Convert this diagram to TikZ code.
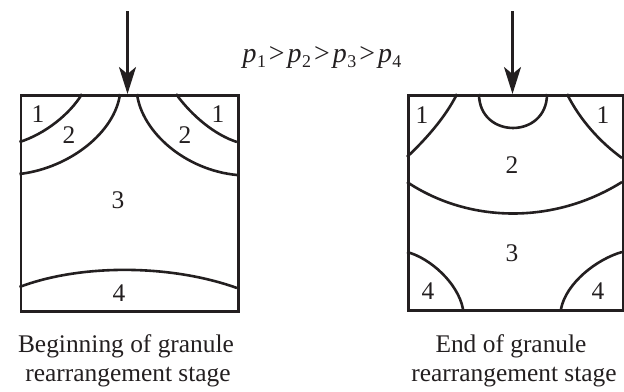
\documentclass[tikz,border=0pt]{standalone}
\usepackage{fontspec}
\setmainfont{Liberation Serif}
\usetikzlibrary{arrows.meta}
\definecolor{ink}{HTML}{231F20}
\newcommand\pv[1]{\textit{p}\kern0.5bp\raisebox{-0.4ex}{\fontsize{18}{18}\selectfont #1}}
\newcommand\gtr{\kern3bp>\kern3bp}
\begin{document}
\begin{tikzpicture}[x=1bp,y=-1bp,
  boxline/.style={draw=ink,line width=2.7bp},
  zone/.style={draw=ink,line width=2.6bp},
  lbl/.style={text=ink,font=\fontsize{25.5}{25.5}\selectfont,inner sep=0pt},
  formtxt/.style={text=ink,font=\fontsize{28}{28}\selectfont,inner sep=0pt},
  captxt/.style={text=ink,font=\fontsize{25.5}{29}\selectfont,align=center,inner sep=0pt},
  press/.style={draw=ink,line width=2.6bp,-{Stealth[length=27bp,width=17bp,inset=7bp]}}]
\useasboundingbox (0,0) rectangle (624,391);
% left box
\node[boxline,minimum width=217.5bp,minimum height=216bp,inner sep=0pt,anchor=north west] (L) at (19.5,94) {};
\draw[zone] (82,94) .. controls (70,114) and (45,134) .. (19.5,142);
\draw[zone] (120,94) .. controls (115,132) and (70,168) .. (19.5,174);
\draw[zone] (137,94) .. controls (142,132) and (185,170) .. (237,175);
\draw[zone] (176,94) .. controls (192,116) and (215,135) .. (237,142);
\draw[zone] (19.5,287) .. controls (80,264) and (170,264) .. (237,288);
\node[lbl] (l1a) at (38,114) {1};
\node[lbl] (l2a) at (69,135) {2};
\node[lbl] (l2b) at (185,135) {2};
\node[lbl] (l1b) at (218,114) {1};
\node[lbl] (l3) at (118,200) {3};
\node[lbl] (l4) at (119,293) {4};
\coordinate (La) at (127.5,11);
\coordinate (Lt) at (127.5,94);
\draw[press] (La) -- (Lt);
% right box
\node[boxline,minimum width=215bp,minimum height=215bp,inner sep=0pt,anchor=north west] (R) at (407,94) {};
\draw[zone] (479,94) .. controls (479,139.3) and (547,139.3) .. (547,94);
\draw[zone] (457,94) .. controls (445,118) and (425,140) .. (407,157);
\draw[zone] (567,94) .. controls (580,120) and (600,142) .. (622,158);
\draw[zone] (407,182) .. controls (470,224) and (555,224) .. (622,182);
\draw[zone] (407,252) .. controls (430,258) and (458,283) .. (463,309);
\draw[zone] (622,252) .. controls (597,259) and (566,283) .. (561,309);
\node[lbl] (r1a) at (422,115) {1};
\node[lbl] (r1b) at (603,115) {1};
\node[lbl] (r2) at (512,165) {2};
\node[lbl] (r3) at (512,253) {3};
\node[lbl] (r4a) at (428,291) {4};
\node[lbl] (r4b) at (598,291) {4};
\coordinate (Ra) at (512.5,11);
\coordinate (Rt) at (512.5,94);
\draw[press] (Ra) -- (Rt);
% formula
\node[formtxt,anchor=base] (form) at (322,62) {\pv{1}\gtr\pv{2}\gtr\pv{3}\gtr\pv{4}};
% captions
\node[captxt,anchor=base] (capL1) at (126,352) {Beginning of granule};
\node[captxt,anchor=base] (capL2) at (128,381) {rearrangement stage};
\node[captxt,anchor=base] (capR1) at (511,352) {End of granule};
\node[captxt,anchor=base] (capR2) at (514,381) {rearrangement stage};
\end{tikzpicture}
\end{document}
